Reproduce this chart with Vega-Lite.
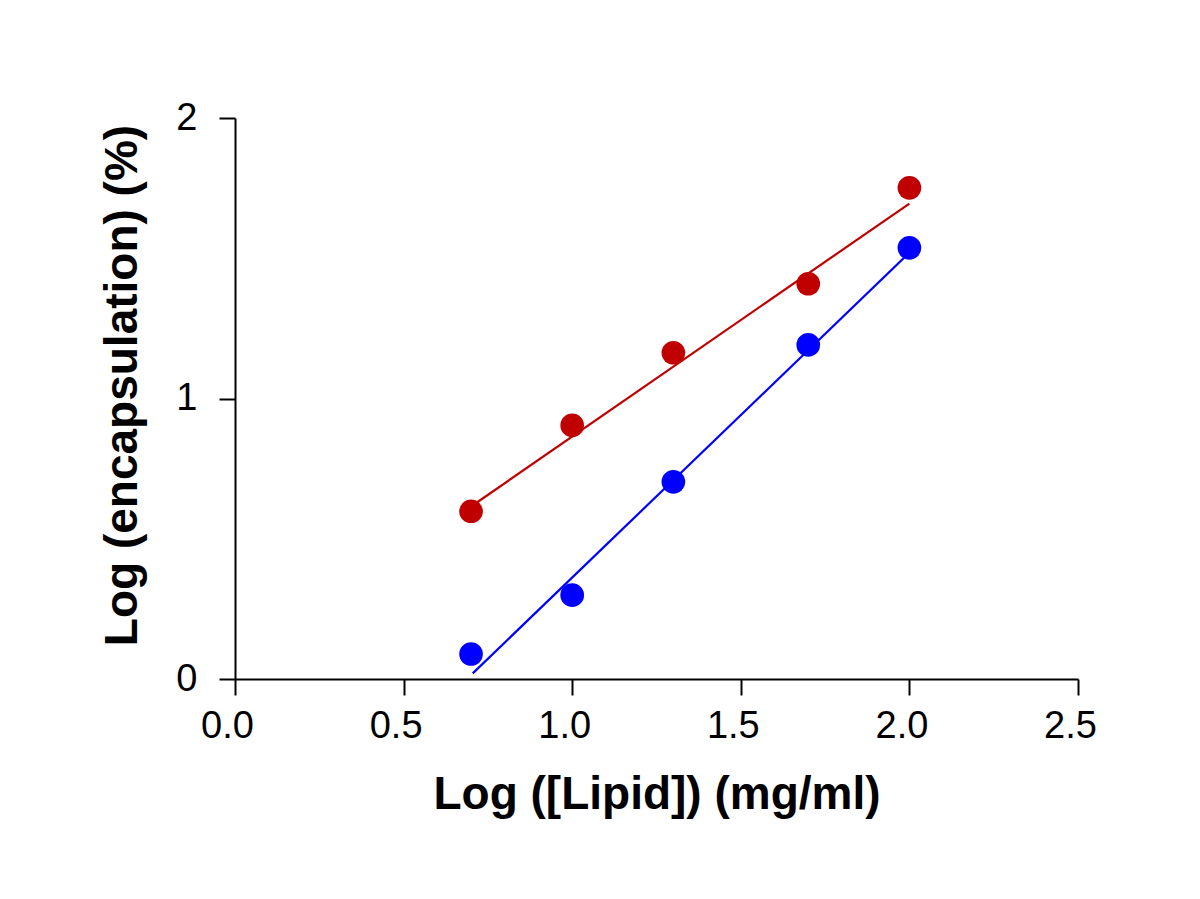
{
  "$schema": "https://vega.github.io/schema/vega-lite/v6.json",
  "autosize": {"type": "none"},
  "width": 843,
  "height": 561,
  "padding": {"left": 235, "top": 118, "right": 122, "bottom": 220},
  "background": "white",
  "config": {
    "view": {"stroke": null},
    "font": "Liberation Sans",
    "axis": {
      "grid": false,
      "domainColor": "black",
      "domainWidth": 2,
      "tickColor": "black",
      "tickWidth": 2,
      "tickSize": 16,
      "labelFont": "Liberation Sans",
      "labelFontSize": 38,
      "labelColor": "black",
      "labelOverlap": false,
      "labelFlush": false,
      "titleFont": "Liberation Sans",
      "titleFontSize": 46,
      "titleFontWeight": "bold",
      "titleColor": "black"
    }
  },
  "datasets": {
    "points": [
      {"series": "A", "logLipid": 0.7, "logEnc": 0.598},
      {"series": "A", "logLipid": 1.0, "logEnc": 0.904},
      {"series": "A", "logLipid": 1.3, "logEnc": 1.163},
      {"series": "A", "logLipid": 1.7, "logEnc": 1.409},
      {"series": "A", "logLipid": 2.0, "logEnc": 1.751},
      {"series": "B", "logLipid": 0.7, "logEnc": 0.089},
      {"series": "B", "logLipid": 1.0, "logEnc": 0.299},
      {"series": "B", "logLipid": 1.3, "logEnc": 0.703},
      {"series": "B", "logLipid": 1.7, "logEnc": 1.191},
      {"series": "B", "logLipid": 2.0, "logEnc": 1.537}
    ],
    "fits": [
      {"series": "A", "logLipid": 0.7, "logEnc": 0.615},
      {"series": "A", "logLipid": 2.0, "logEnc": 1.695},
      {"series": "B", "logLipid": 0.705, "logEnc": 0.02},
      {"series": "B", "logLipid": 2.0, "logEnc": 1.52}
    ]
  },
  "encoding": {
    "x": {
      "field": "logLipid", "type": "quantitative",
      "scale": {"domain": [0, 2.5], "nice": false, "zero": false},
      "axis": {
        "values": [0, 0.5, 1, 1.5, 2, 2.5],
        "format": ".1f",
        "labelPadding": 12,
        "labelOffset": -8,
        "title": "Log ([Lipid]) (mg/ml)",
        "titleX": 421.5,
        "titleY": 129,
        "titleAlign": "center",
        "titleBaseline": "alphabetic",
        "titleAnchor": null
      }
    },
    "y": {
      "field": "logEnc", "type": "quantitative",
      "scale": {"domain": [0, 2], "nice": false, "zero": false},
      "axis": {
        "values": [0, 1, 2],
        "format": ".0f",
        "labelPadding": 22,
        "title": "Log (encapsulation) (%)",
        "titleX": -99,
        "titleY": 267,
        "titleAngle": -90,
        "titleAlign": "center",
        "titleBaseline": "alphabetic"
      }
    },
    "color": {"field": "series", "type": "nominal", "scale": {"domain": ["A", "B"], "range": ["#C00000", "#0000FF"]}, "legend": null}
  },
  "layer": [
    {
      "data": {"name": "fits"},
      "mark": {"type": "line", "strokeWidth": 2.2},
      "encoding": {
        "detail": {"field": "series"}
      }
    },
    {
      "data": {"name": "points"},
      "mark": {"type": "point", "filled": true, "opacity": 1, "size": 560},
      "encoding": {}
    }
  ]
}
